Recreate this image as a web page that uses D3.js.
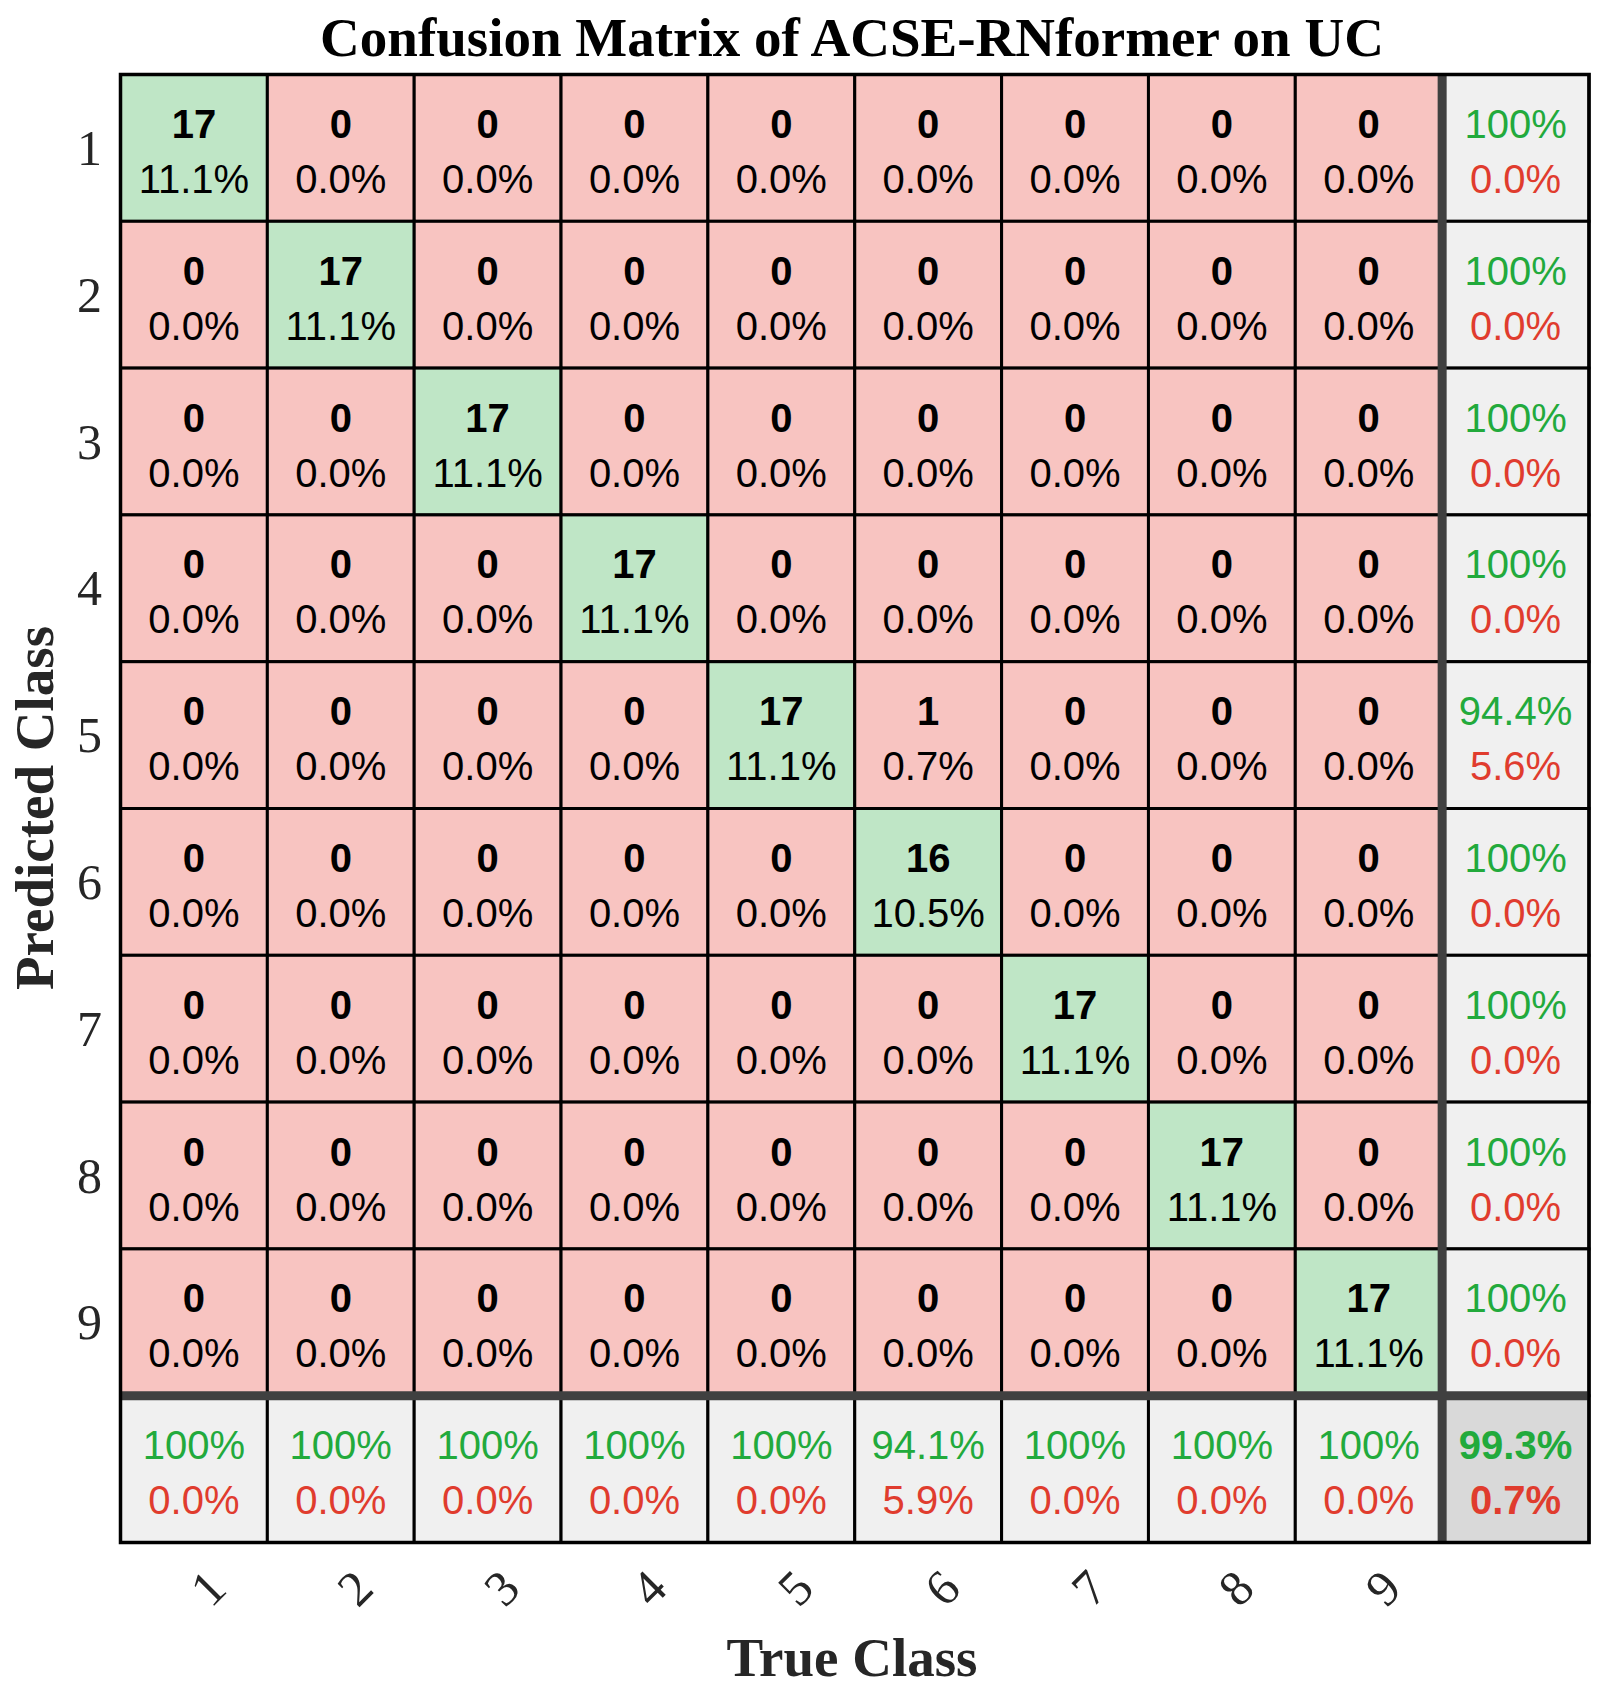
<!DOCTYPE html>
<html>
<head>
<meta charset="utf-8">
<script src="https://cdn.jsdelivr.net/npm/d3@7"></script>
<style>
  html, body { margin: 0; padding: 0; background: #fff; }
</style>
</head>
<body>
<div id="chart"></div>
<script>
document.addEventListener("DOMContentLoaded", function () {

// Classes (predicted = rows, true = columns)
const classes = ["1", "2", "3", "4", "5", "6", "7", "8", "9"];

// Counts
const counts = [
  [17, 0, 0, 0, 0, 0, 0, 0, 0],
  [0, 17, 0, 0, 0, 0, 0, 0, 0],
  [0, 0, 17, 0, 0, 0, 0, 0, 0],
  [0, 0, 0, 17, 0, 0, 0, 0, 0],
  [0, 0, 0, 0, 17, 1, 0, 0, 0],
  [0, 0, 0, 0, 0, 16, 0, 0, 0],
  [0, 0, 0, 0, 0, 0, 17, 0, 0],
  [0, 0, 0, 0, 0, 0, 0, 17, 0],
  [0, 0, 0, 0, 0, 0, 0, 0, 17]
];

const titleText = "Confusion Matrix of ACSE-RNformer on UC";
const xLabel = "True Class";
const yLabel = "Predicted Class";

// Colours
const colGood = "#bfe6c6";
const colBad = "#f8c4c1";
const colSummary = "#f0f0f0";
const colTotal = "#d9d9d9";
const txtGreen = "#22aa3c";
const txtRed = "#e03c2e";

const width = 1604, height = 1694;
const left = 120.5, right = 1589, top = 74.5, bottom = 1542.5;

const svg = d3.select("#chart").append("svg")
  .attr("width", width)
  .attr("height", height);

// 9 classes + summary row/column
const idx = d3.range(classes.length + 1);
const x = d3.scaleBand().domain(idx).range([left, right]);
const y = d3.scaleBand().domain(idx).range([top, bottom]);
const bw = x.bandwidth(), bh = y.bandwidth();

const n = classes.length;
const total = d3.sum(counts.flat());
const rowSum = counts.map(r => d3.sum(r));
const colSum = idx.slice(0, n).map(j => d3.sum(counts, r => r[j]));
const correct = d3.sum(idx.slice(0, n), i => counts[i][i]);

function fmt(p) {
  return p === 100 ? "100%" : p.toFixed(1) + "%";
}

// build cells
const cells = [];
for (let i = 0; i <= n; i++) {
  for (let j = 0; j <= n; j++) {
    let c = { i, j };
    if (i < n && j < n) {
      c.type = "main";
      c.fill = i === j ? colGood : colBad;
      c.line1 = String(counts[i][j]);
      c.line2 = (counts[i][j] / total * 100).toFixed(1) + "%";
    } else if (i < n) {
      const p = rowSum[i] ? counts[i][i] / rowSum[i] * 100 : 0;
      c.type = "sum";
      c.fill = colSummary;
      c.line1 = fmt(p);
      c.line2 = fmt(100 - p);
    } else if (j < n) {
      const p = colSum[j] ? counts[j][j] / colSum[j] * 100 : 0;
      c.type = "sum";
      c.fill = colSummary;
      c.line1 = fmt(p);
      c.line2 = fmt(100 - p);
    } else {
      const p = correct / total * 100;
      c.type = "total";
      c.fill = colTotal;
      c.line1 = fmt(p);
      c.line2 = fmt(100 - p);
    }
    cells.push(c);
  }
}

const cellG = svg.append("g")
  .selectAll("g")
  .data(cells)
  .enter().append("g")
  .attr("transform", d => `translate(${x(d.j)},${y(d.i)})`);

cellG.append("rect")
  .attr("width", bw)
  .attr("height", bh)
  .attr("fill", d => d.fill)
  .attr("stroke", "#000")
  .attr("stroke-width", 3);

cellG.append("text")
  .attr("x", bw / 2)
  .attr("y", 63.5)
  .attr("text-anchor", "middle")
  .style("font-family", "Arial, 'Liberation Sans', Helvetica, sans-serif")
  .style("font-size", "40px")
  .style("font-weight", d => d.type === "sum" ? "normal" : "bold")
  .style("fill", d => d.type === "main" ? "#000" : txtGreen)
  .text(d => d.line1);

cellG.append("text")
  .attr("x", bw / 2)
  .attr("y", 118.5)
  .attr("text-anchor", "middle")
  .style("font-family", "Arial, 'Liberation Sans', Helvetica, sans-serif")
  .style("font-size", "40px")
  .style("font-weight", d => d.type === "total" ? "bold" : "normal")
  .style("fill", d => d.type === "main" ? "#000" : txtRed)
  .text(d => d.line2);

// thick separators before summary row / column
svg.append("line")
  .attr("x1", x(n)).attr("x2", x(n))
  .attr("y1", top).attr("y2", bottom)
  .attr("stroke", "#404040").attr("stroke-width", 9);
svg.append("line")
  .attr("x1", left).attr("x2", right)
  .attr("y1", y(n)).attr("y2", y(n))
  .attr("stroke", "#404040").attr("stroke-width", 9);

// outer frame
svg.append("rect")
  .attr("x", left).attr("y", top)
  .attr("width", right - left).attr("height", bottom - top)
  .attr("fill", "none")
  .attr("stroke", "#000")
  .attr("stroke-width", 3.5);

const serif = "'Times New Roman', 'Liberation Serif', Times, serif";

// y tick labels
svg.append("g")
  .selectAll("text")
  .data(classes)
  .enter().append("text")
  .attr("x", 102)
  .attr("y", (d, i) => y(i) + bh / 2 + 17)
  .attr("text-anchor", "end")
  .style("font-family", serif)
  .style("font-size", "50px")
  .style("fill", "#262626")
  .text(d => d);

// x tick labels, rotated
svg.append("g")
  .selectAll("g")
  .data(classes)
  .enter().append("g")
  .attr("transform", (d, i) => `translate(${x(i) + bw / 2 + 14},1588) rotate(-45)`)
  .append("text")
  .attr("text-anchor", "middle")
  .attr("dy", "0.34em")
  .style("font-family", serif)
  .style("font-size", "50px")
  .style("fill", "#262626")
  .text(d => d);

// title
svg.append("text")
  .attr("x", 852)
  .attr("y", 56)
  .attr("text-anchor", "middle")
  .style("font-family", serif)
  .style("font-size", "55px")
  .style("font-weight", "bold")
  .style("fill", "#000")
  .text(titleText);

// axis labels
svg.append("text")
  .attr("x", 852)
  .attr("y", 1676)
  .attr("text-anchor", "middle")
  .style("font-family", serif)
  .style("font-size", "55px")
  .style("font-weight", "bold")
  .style("fill", "#262626")
  .text(xLabel);

svg.append("text")
  .attr("transform", "translate(53,808) rotate(-90)")
  .attr("text-anchor", "middle")
  .style("font-family", serif)
  .style("font-size", "55px")
  .style("font-weight", "bold")
  .style("fill", "#262626")
  .text(yLabel);

});
</script>
</body>
</html>
